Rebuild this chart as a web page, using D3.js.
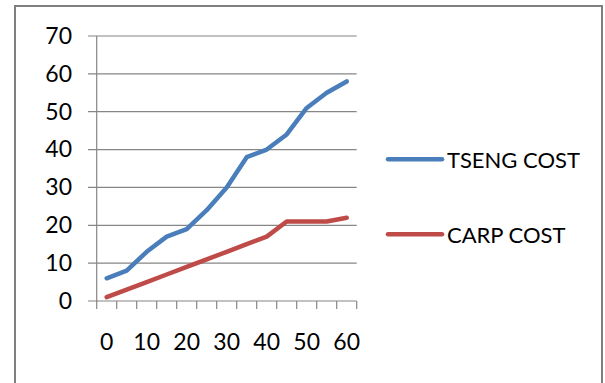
<!DOCTYPE html>
<html><head><meta charset="utf-8">
<script src="https://cdn.jsdelivr.net/npm/d3@7"></script>
<style>body{margin:0;background:#fff;} text{font-family:Lato,"Liberation Sans",sans-serif;fill:#000;}</style>
</head><body><svg id="c" width="605" height="383"></svg>
<script>
const categories = [0,5,10,15,20,25,30,35,40,45,50,55,60];
const xTickLabels = [0,10,20,30,40,50,60];
const yTicks = [0,10,20,30,40,50,60,70];
const tsengCost = [6,8,13,17,19,24,30,38,40,44,51,55,58];
const carpCost = [1,3,5,7,9,11,13,15,17,21,21,21,22];
const seriesNames = ["TSENG COST","CARP COST"];
const colors = ["#4A7EBB","#BE4B48"];

const svg = d3.select("#c");
svg.append("rect").attr("x",15).attr("y",6).attr("width",587).attr("height",400)
  .attr("fill","#fff").attr("stroke","#7f7f7f").attr("stroke-width",2);

const x = d3.scaleBand().domain(categories).range([96.7,356.7]).padding(0);
const y = d3.scaleLinear().domain([0,70]).range([301,36]);
const grid = "#868686";

// gridlines
svg.append("g").selectAll("line").data(yTicks).join("line")
  .attr("x1",88).attr("x2",356.7).attr("y1",d=>y(d)).attr("y2",d=>y(d))
  .attr("stroke",grid).attr("stroke-width",1.2);
// y axis line
svg.append("line").attr("x1",96.7).attr("x2",96.7).attr("y1",y(70)).attr("y2",y(0)+1)
  .attr("stroke",grid).attr("stroke-width",1.2);
// x tick marks at category boundaries
const bounds = categories.map(c=>x(c)).concat([x(categories[categories.length-1])+x.bandwidth()]);
svg.append("g").selectAll("line").data(bounds).join("line")
  .attr("x1",d=>d).attr("x2",d=>d).attr("y1",y(0)).attr("y2",y(0)+8)
  .attr("stroke",grid).attr("stroke-width",1.2);

// y labels
const yAxis = d3.axisLeft(y).tickValues(yTicks).tickSize(0).tickPadding(0);
const yg = svg.append("g").attr("transform","translate(72,0)").call(yAxis);
yg.select(".domain").remove();
yg.selectAll("text").attr("font-size",23).attr("fill","#000").style("font-family","Lato");

// x labels
const xAxis = d3.axisBottom(x).tickValues(xTickLabels).tickSize(0).tickPadding(0);
const xg = svg.append("g").attr("transform","translate(0,334)").call(xAxis);
xg.select(".domain").remove();
xg.selectAll("text").attr("font-size",23).attr("fill","#000").style("font-family","Lato");

// lines
const line = d3.line().x((d,i)=>x(categories[i])+x.bandwidth()/2).y(d=>y(d));
[tsengCost,carpCost].forEach((s,k)=>{
  svg.append("path").datum(s).attr("d",line).attr("fill","none")
    .attr("stroke",colors[k]).attr("stroke-width",4.5)
    .attr("stroke-linejoin","round").attr("stroke-linecap","round");
});

// legend
const legY = [159.3,234.3];
seriesNames.forEach((n,k)=>{
  svg.append("line").attr("x1",388).attr("x2",442).attr("y1",legY[k]).attr("y2",legY[k])
    .attr("stroke",colors[k]).attr("stroke-width",4.5).attr("stroke-linecap","round");
  svg.append("text").attr("x",447).attr("y",legY[k]+8.2).attr("font-size",22).text(n);
});
</script></body></html>
